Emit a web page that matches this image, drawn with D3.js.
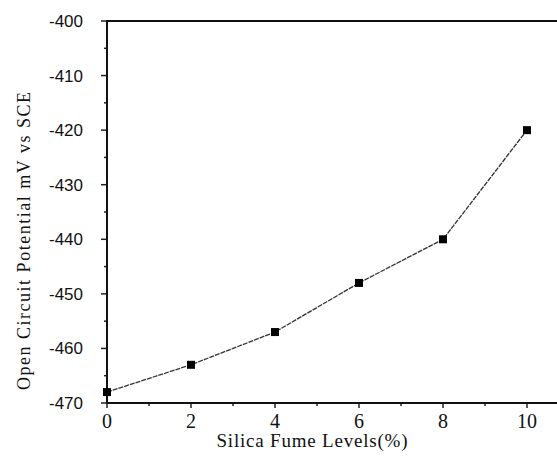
<!DOCTYPE html>
<html>
<head>
<meta charset="utf-8">
<script src="https://cdn.jsdelivr.net/npm/d3@7"></script>
<style>
  body { margin: 0; background: #fff; }
</style>
</head>
<body>
<div id="wrapper"></div>
<script>
// data
const silicaLevels = [0, 2, 4, 6, 8, 10];
const potentials = [-468, -463, -457, -448, -440, -420];
const xTicks = [0, 2, 4, 6, 8, 10];
const yTicks = [-400, -410, -420, -430, -440, -450, -460, -470];

function drawChart() {
  const dimensions = {
    width: 557,
    height: 459,
    margin: { top: 21, right: 30, bottom: 56, left: 107 },
  };
  dimensions.boundedWidth = 527 - dimensions.margin.left;
  dimensions.boundedHeight = 403 - dimensions.margin.top;

  const svg = d3.select("#wrapper")
    .append("svg")
    .attr("width", dimensions.width)
    .attr("height", dimensions.height);

  const bounds = svg.append("g")
    .attr("transform", `translate(${dimensions.margin.left},${dimensions.margin.top})`);

  const xScale = d3.scaleLinear().domain([0, 10]).range([0, dimensions.boundedWidth]);
  const yScale = d3.scaleLinear().domain([-470, -400]).range([dimensions.boundedHeight, 0]);

  // minor ticks
  const xMinor = d3.range(1, 10, 2);
  const yMinor = d3.range(-465, -400, 10);

  bounds.selectAll(".xminor").data(xMinor).enter().append("line")
    .attr("x1", d => xScale(d)).attr("x2", d => xScale(d))
    .attr("y1", dimensions.boundedHeight).attr("y2", dimensions.boundedHeight + 3)
    .attr("stroke", "#222").attr("stroke-width", 1.5);
  bounds.selectAll(".xmajor").data(xTicks).enter().append("line")
    .attr("x1", d => xScale(d)).attr("x2", d => xScale(d))
    .attr("y1", dimensions.boundedHeight).attr("y2", dimensions.boundedHeight + 5)
    .attr("stroke", "#222").attr("stroke-width", 1.5);

  bounds.selectAll(".yminor").data(yMinor).enter().append("line")
    .attr("x1", -3).attr("x2", 0)
    .attr("y1", d => yScale(d)).attr("y2", d => yScale(d))
    .attr("stroke", "#222").attr("stroke-width", 1.5);
  bounds.selectAll(".ymajor").data(yTicks).enter().append("line")
    .attr("x1", -6).attr("x2", 0)
    .attr("y1", d => yScale(d)).attr("y2", d => yScale(d))
    .attr("stroke", "#222").attr("stroke-width", 1.5);

  // tick labels
  bounds.selectAll(".xlab").data(xTicks).enter().append("text")
    .attr("x", d => xScale(d))
    .attr("y", dimensions.boundedHeight + 25)
    .attr("text-anchor", "middle")
    .style("font-family", "Liberation Serif, Times New Roman, serif")
    .style("font-size", "20px")
    .attr("fill", "#111")
    .text(d => d);

  bounds.selectAll(".ylab").data(yTicks).enter().append("text")
    .attr("x", -24)
    .attr("y", d => yScale(d))
    .attr("dy", "0.35em")
    .attr("text-anchor", "end")
    .style("font-family", "Liberation Sans, Arial, sans-serif")
    .style("font-size", "17px")
    .attr("fill", "#111")
    .text(d => d);

  // axes lines
  bounds.append("line")
    .attr("x1", 0).attr("x2", 0)
    .attr("y1", 0).attr("y2", dimensions.boundedHeight)
    .attr("stroke", "#111").attr("stroke-width", 2);
  bounds.append("line")
    .attr("x1", 0).attr("x2", dimensions.width - dimensions.margin.left)
    .attr("y1", dimensions.boundedHeight).attr("y2", dimensions.boundedHeight)
    .attr("stroke", "#111").attr("stroke-width", 2);
  bounds.append("line")
    .attr("x1", -1).attr("x2", dimensions.width - dimensions.margin.left)
    .attr("y1", 0).attr("y2", 0)
    .attr("stroke", "#111").attr("stroke-width", 2);

  // the line
  const lineGenerator = d3.line()
    .x((d, i) => xScale(silicaLevels[i]))
    .y(d => yScale(d));

  bounds.append("path")
    .attr("d", lineGenerator(potentials))
    .attr("fill", "none")
    .attr("stroke", "#333")
    .attr("stroke-width", 1.3)
    .attr("stroke-dasharray", "5,1");

  bounds.selectAll("rect.marker").data(potentials).enter().append("rect")
    .attr("class", "marker")
    .attr("x", (d, i) => xScale(silicaLevels[i]) - 4)
    .attr("y", d => yScale(d) - 4)
    .attr("width", 8).attr("height", 8)
    .attr("fill", "#000");

  // axis titles
  svg.append("text")
    .attr("x", 312)
    .attr("y", 447)
    .attr("text-anchor", "middle")
    .attr("textLength", 191)
    .style("font-family", "Liberation Serif, Times New Roman, serif")
    .style("font-size", "19px")
    .attr("fill", "#111")
    .text("Silica Fume Levels(%)");

  svg.append("text")
    .attr("transform", "translate(30,241) rotate(-90)")
    .attr("text-anchor", "middle")
    .attr("textLength", 298)
    .style("font-family", "Liberation Serif, Times New Roman, serif")
    .style("font-size", "18px")
    .attr("fill", "#111")
    .text("Open Circuit Potential mV vs SCE");
}

drawChart();
</script>
</body>
</html>
